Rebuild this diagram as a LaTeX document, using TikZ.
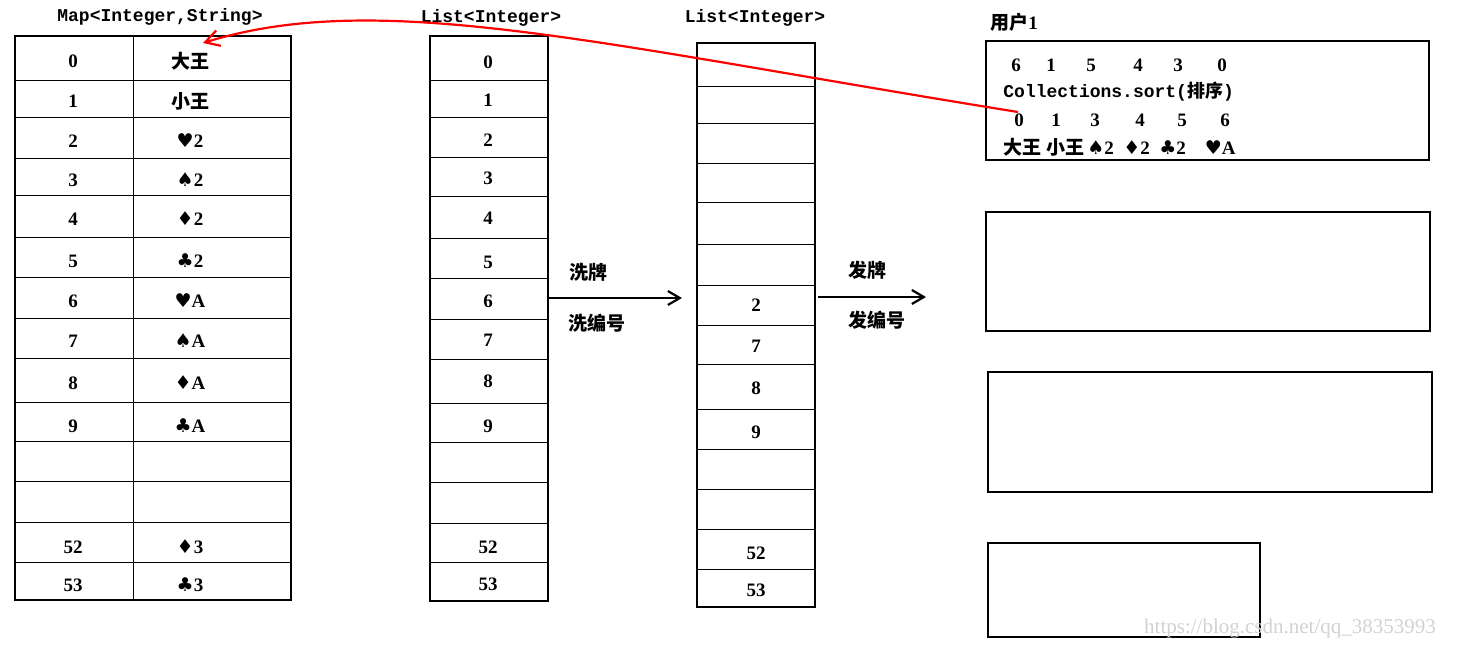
\documentclass[tikz,border=0pt]{standalone}
\usetikzlibrary{arrows.meta}
\usepackage{fontspec}
\setmainfont{Liberation Serif}
\newfontfamily\cjk{Noto Sans CJK SC}
\newfontfamily\sym{DejaVu Sans}
\setmonofont{Liberation Mono}
\newcommand{\He}{{\sym ♥}}
\newcommand{\Sp}{{\sym ♠}}
\newcommand{\Di}{{\sym ♦}}
\newcommand{\Cl}{{\sym ♣}}
\begin{document}
\begin{tikzpicture}[x=0.5pt,y=-0.5pt,font=\fontsize{9.5}{10}\selectfont\bfseries,
  outer/.style={line width=1.3pt},
  inner/.style={line width=0.5pt},
  lbl/.style={inner sep=0pt},
  arr/.style={line width=1.1pt,-{Straight Barb[length=6pt,width=7pt]}}]
\useasboundingbox (0,0) rectangle (1465,648);
% Map table
\draw[outer] (15,36) rectangle (291,600);
\draw[inner] (133,36) -- (133,600);
\foreach \y in {80,117,158,195,237,277,318,358,402,441,481,522,562} \draw[inner] (15,\y) -- (291,\y);
\node[lbl,font=\fontsize{9}{10}\ttfamily\bfseries] (maptitle) at (160,17) {Map<Integer,String>};
\foreach \y/\k/\v [count=\i] in {58/0/{\cjk 大王},98/1/{\cjk 小王},138/2/{\He2},177/3/{\Sp2},216/4/{\Di2},258/5/{\Cl2},298/6/{\He A},338/7/{\Sp A},380/8/{\Di A},423/9/{\Cl A},544/52/{\Di3},582/53/{\Cl3}}{
  \node[lbl] (mk\i) at (73,\y+3) {\k};
  \node[lbl] (mv\i) at (190,\y+3) {\v};
}
% List 1
\draw[outer] (430,36) rectangle (548,601);
\foreach \y in {80,117,157,196,238,278,319,359,403,442,482,523,562} \draw[inner] (430,\y) -- (548,\y);
\node[lbl,font=\fontsize{9}{10}\ttfamily\bfseries] (l1title) at (491,18) {List<Integer>};
\foreach \y/\k [count=\i] in {62/0,100/1,140/2,178/3,218/4,262/5,301/6,340/7,381/8,426/9,547/52,584/53}
  \node[lbl] (la\i) at (488,\y) {\k};
% List 2
\draw[outer] (697,43) rectangle (815,607);
\foreach \y in {86,123,163,202,244,285,325,364,409,449,489,529,569} \draw[inner] (697,\y) -- (815,\y);
\node[lbl,font=\fontsize{9}{10}\ttfamily\bfseries] (l2title) at (755,18) {List<Integer>};
\foreach \y/\k [count=\i] in {305/2,346/7,388/8,432/9,553/52,590/53}
  \node[lbl] (lb\i) at (756,\y) {\k};
% arrows
\coordinate (a1s) at (548,298); \coordinate (a1e) at (682,298);
\draw[arr] (a1s) -- (a1e);
\node[lbl] (t1) at (588,272) {\cjk\bfseries 洗牌};
\node[lbl] (t2) at (597,323) {\cjk\bfseries 洗编号};
\coordinate (a2s) at (818,297); \coordinate (a2e) at (926,297);
\draw[arr] (a2s) -- (a2e);
\node[lbl] (t3) at (867,270) {\cjk\bfseries 发牌};
\node[lbl] (t4) at (877,320) {\cjk\bfseries 发编号};
% users
\node[lbl,anchor=west] (u1t) at (990,22) {{\cjk\bfseries 用户}1};
\draw[outer] (986,41) rectangle (1429,160);
\draw[outer] (986,212) rectangle (1430,331);
\draw[outer] (988,372) rectangle (1432,492);
\draw[outer] (988,543) rectangle (1260,637);
\foreach \x/\k in {1016/6,1051/1,1091/5,1138/4,1178/3,1222/0} \node[lbl] at (\x,65) {\k};
\node[lbl,anchor=west,font=\fontsize{9}{10}\ttfamily\bfseries] (coll) at (1003,92) {Collections.sort({\cjk\bfseries 排序})};
\foreach \x/\k in {1019/0,1056/1,1095/3,1140/4,1182/5,1225/6} \node[lbl] at (\x,120) {\k};
\node[lbl,anchor=west] (hand) at (1003,147) {{\cjk\bfseries 大王} {\cjk\bfseries 小王}\,\Sp2\enspace\Di2\enspace\Cl2\quad\He A};
% red curve
\coordinate (rs) at (1018,112);
\coordinate (re) at (203,43);
\draw[red,line width=1.1pt,-{Straight Barb[length=7pt,width=8pt]}] (rs) .. controls (600,45) and (380,-12) .. (re);
% watermark
\node[lbl,text=gray!35,font=\fontsize{10.5}{11}\selectfont] (wm) at (1290,628) {https://blog.csdn.net/qq\_38353993};
\end{tikzpicture}
\end{document}
